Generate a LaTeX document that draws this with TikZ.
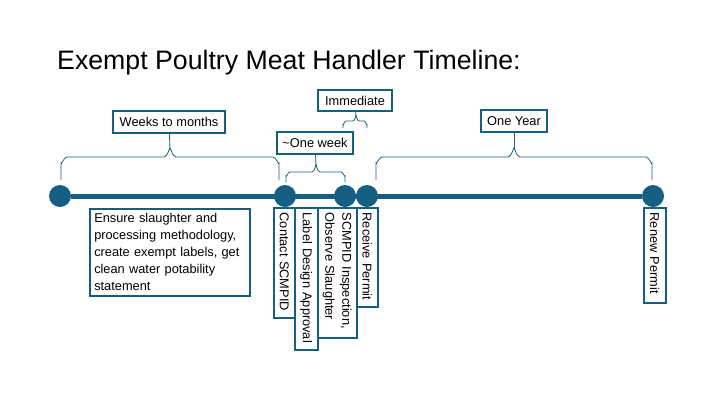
\documentclass[tikz,border=0pt]{standalone}
\usepackage{fontspec}
\setmainfont{Liberation Sans}
\usepackage{tikz}
\definecolor{tealblue}{HTML}{156082}

\begin{document}
\begin{tikzpicture}[x=1pt,y=-1pt,
  dot/.style={circle,fill=tealblue,minimum size=22pt,inner sep=0pt},
  tline/.style={tealblue,line width=5pt},
  brace/.style={tealblue,line width=0.8pt},
  lbl/.style={draw=tealblue,line width=1.2pt,fill=white,font=\fontsize{12.8}{14}\selectfont,
    minimum height=22pt,inner xsep=4pt,inner ysep=0pt},
  vbox/.style={draw=tealblue,line width=1.5pt,fill=white,rotate=-90,anchor=south west,
    align=left,inner xsep=5pt,inner ysep=1pt,font=\fontsize{12.8}{17}\selectfont}]
  \useasboundingbox (0,0) rectangle (720,405);
  \node[anchor=base west,inner sep=0pt,font=\fontsize{26.7}{32}\selectfont] (title) at (57,69) {Exempt Poultry Meat Handler Timeline:};

  % timeline
  \node[dot] (d1) at (60,196) {};
  \node[dot] (d2) at (285,196) {};
  \node[dot] (d3) at (345,196) {};
  \node[dot] (d4) at (367,196) {};
  \node[dot] (d5) at (653,196) {};
  \draw[tline] (d1) -- (d5);

  % steps
  \node[draw=tealblue,line width=1.5pt,fill=white,anchor=north west,text width=151pt,align=left,
    minimum height=87pt,inner xsep=4.5pt,inner ysep=4pt,font=\fontsize{12.8}{17}\selectfont] (prep) at (89,208)
    {Ensure slaughter and\\processing methodology,\\create exempt labels, get\\clean water potability\\statement};
  \node[vbox,text width=100pt,minimum height=21pt] (contact) at (273,207) {Contact SCMPID};
  \node[vbox,text width=132pt,minimum height=23pt] (label) at (294,207) {Label Design Approval};
  \node[vbox,text width=120pt,minimum height=39pt] (inspect) at (317,207) {SCMPID Inspection,\\Observe Slaughter};
  \node[vbox,text width=89pt,minimum height=21pt] (receive) at (356,207) {Receive Permit};
  \node[vbox,text width=85pt,minimum height=22pt] (renew) at (643,207) {Renew Permit};

  % durations
  \node[lbl,minimum width=112pt] (weeks) at (169,122) {Weeks to months};
  \node[lbl,minimum width=76pt] (week) at (315,143) {\textasciitilde One week};
  \node[lbl,minimum width=74pt,minimum height=21pt] (now) at (355,100.5) {Immediate};
  \node[lbl,minimum width=66pt] (year) at (514,121) {One Year};

  \draw[brace] (61,180) -- (61,163) to[out=-90,in=180] (67,157) -- (164,157)
    to[out=0,in=90] (170,149) to[out=90,in=180] (176,157) -- (273,157)
    to[out=0,in=-90] (279,163) -- (279,180);
  \coordinate (t1) at (170,149);
  \draw[brace] (t1) -- (weeks);

  \draw[brace] (286,182) -- (286,176) to[out=-90,in=180] (290,172) -- (312,172)
    to[out=0,in=90] (316,165) to[out=90,in=180] (320,172) -- (341,172)
    to[out=0,in=-90] (345,176) -- (345,182);
  \coordinate (t2) at (316,165);
  \draw[brace] (t2) -- (week);

  \draw[brace] (343,128) -- (343,125) to[out=-90,in=180] (346,121) -- (353,121)
    to[out=0,in=90] (356,116) to[out=90,in=180] (359,121) -- (364,121)
    to[out=0,in=-90] (367,125) -- (367,128);
  \coordinate (t3) at (356,116);
  \draw[brace] (t3) -- (now);

  \draw[brace] (376,180) -- (376,163) to[out=-90,in=180] (382,157) -- (508,157)
    to[out=0,in=90] (514,149) to[out=90,in=180] (520,157) -- (646,157)
    to[out=0,in=-90] (652,163) -- (652,180);
  \coordinate (t4) at (514,149);
  \draw[brace] (t4) -- (year);
\end{tikzpicture}
\end{document}
